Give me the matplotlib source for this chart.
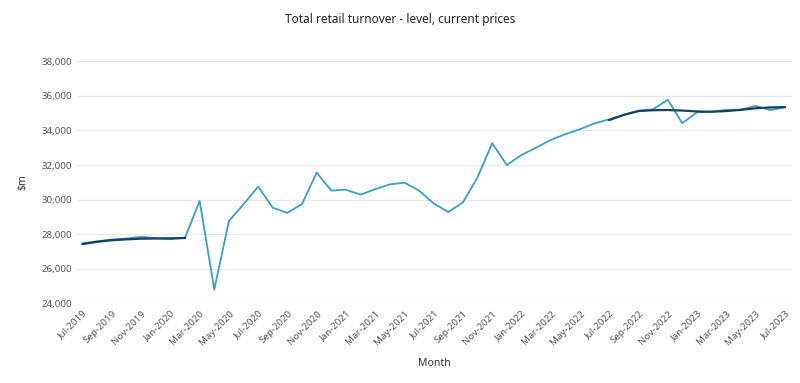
import numpy as np
import matplotlib.pyplot as plt

plt.rcParams['font.family'] = ['Noto Sans', 'DejaVu Sans']

# Months Jul-2019 .. Jul-2023
months = ["Jul-2019", "Aug-2019", "Sep-2019", "Oct-2019", "Nov-2019", "Dec-2019",
          "Jan-2020", "Feb-2020", "Mar-2020", "Apr-2020", "May-2020", "Jun-2020",
          "Jul-2020", "Aug-2020", "Sep-2020", "Oct-2020", "Nov-2020", "Dec-2020",
          "Jan-2021", "Feb-2021", "Mar-2021", "Apr-2021", "May-2021", "Jun-2021",
          "Jul-2021", "Aug-2021", "Sep-2021", "Oct-2021", "Nov-2021", "Dec-2021",
          "Jan-2022", "Feb-2022", "Mar-2022", "Apr-2022", "May-2022", "Jun-2022",
          "Jul-2022", "Aug-2022", "Sep-2022", "Oct-2022", "Nov-2022", "Dec-2022",
          "Jan-2023", "Feb-2023", "Mar-2023", "Apr-2023", "May-2023", "Jun-2023",
          "Jul-2023"]

# seasonally adjusted series ($m)
seas_adj = [27460, 27590, 27690, 27750, 27850, 27770,
            27710, 27800, 29920, 24800, 28760, 29730,
            30750, 29530, 29230, 29750, 31560, 30520,
            30570, 30290, 30600, 30880, 30980, 30520,
            29780, 29280, 29840, 31290, 33260, 32000,
            32580, 33000, 33450, 33780, 34070, 34410,
            34640, 34900, 35140, 35220, 35780, 34420,
            35050, 35090, 35190, 35200, 35420, 35180,
            35330]

# trend series, only available for part of the period
nan = np.nan
trend = [27430, 27560, 27650, 27700, 27740, 27750,
         27760, 27780, nan, nan, nan, nan,
         nan, nan, nan, nan, nan, nan,
         nan, nan, nan, nan, nan, nan,
         nan, nan, nan, nan, nan, nan,
         nan, nan, nan, nan, nan, nan,
         34600, 34900, 35120, 35170, 35180, 35150,
         35100, 35080, 35120, 35190, 35280, 35330,
         35350]

x = np.arange(len(months))

fig = plt.figure(figsize=(8, 3.83), dpi=100)
ax = fig.add_axes([0.096, 0.208, 0.894, 0.632])

ax.plot(x, seas_adj, color='#3a9fc4', lw=1.3, zorder=3)
ax.plot(x, trend, color='#17405f', lw=1.6, zorder=4)

ax.set_ylim(24000, 38000)
ax.set_yticks(np.arange(24000, 38001, 2000))
ax.yaxis.set_major_formatter(plt.FuncFormatter(lambda v, p: f"{int(v):,}"))
ax.set_xlim(-0.4, 48.5)
ax.set_xticks(x[::2])
ax.set_xticklabels(months[::2], rotation=45, ha='right', rotation_mode='anchor')

ax.grid(axis='y', color='#e8e8e8', lw=0.8)
ax.set_axisbelow(True)
for s in ax.spines.values():
    s.set_visible(False)
ax.tick_params(length=0, labelsize=7, colors='#555555')
ax.tick_params(axis='x', pad=4)

ax.set_ylabel(r"\$m", fontsize=7.5, fontweight='bold', color='#333333', labelpad=9)
ax.set_xlabel("Month", fontsize=7.5, fontweight='bold', color='#333333', labelpad=8)
fig.suptitle("Total retail turnover - level, current prices", y=0.965, fontsize=8.5, color='#222222')

fig.savefig("out.png", dpi=100)
